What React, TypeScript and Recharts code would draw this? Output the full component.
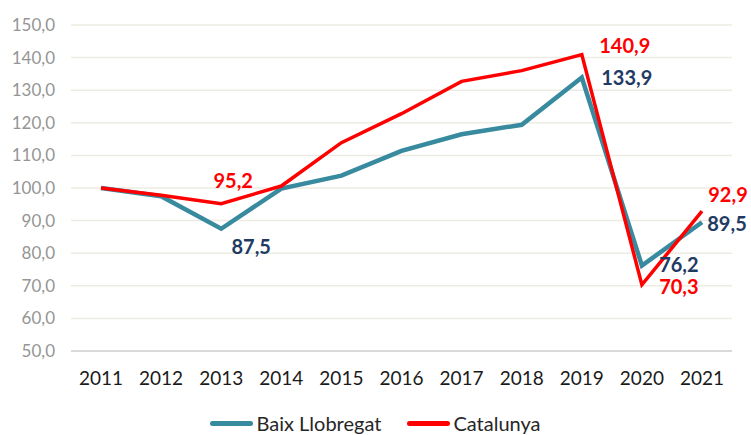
import { LineChart, Line, XAxis, YAxis, CartesianGrid, Legend, LabelList } from "recharts";

const years = ["2011", "2012", "2013", "2014", "2015", "2016", "2017", "2018", "2019", "2020", "2021"];
const baixLlobregat = [100, 97.5, 87.5, 99.8, 103.8, 111.4, 116.5, 119.4, 133.9, 76.2, 89.5];
const catalunya = [100, 97.8, 95.2, 100.6, 113.9, 122.8, 132.7, 136.0, 140.9, 70.3, 92.9];
const yTicks = [50, 60, 70, 80, 90, 100, 110, 120, 130, 140, 150];

const data = years.map((year, i) => ({
  year,
  baix: baixLlobregat[i],
  cat: catalunya[i],
}));

const TEAL = "#388A9E";
const RED = "#FF0000";
const NAVY = "#1F3B64";
const FONT = "Lato, 'Open Sans', sans-serif";

const fmt = (v: number) => v.toFixed(1).replace(".", ",");

// which points get a value label, and where it sits relative to the point
const baixLabels: Record<number, [number, number]> = {
  2: [30, 17],
  8: [45, 0],
  9: [37, -2],
  10: [25, 1],
};
const catLabels: Record<number, [number, number]> = {
  2: [12, -24],
  8: [43, -10],
  9: [37, 1],
  10: [26, -17],
};

const makeLabel = (offsets: Record<number, [number, number]>, color: string) => (props: any) => {
  const { x, y, value, index } = props;
  const off = offsets[index];
  if (!off) return null;
  return (
    <text
      x={x + off[0]}
      y={y + off[1]}
      textAnchor="middle"
      dominantBaseline="central"
      fill={color}
      fontSize={20}
      fontWeight={700}
      fontFamily={FONT}
    >
      {fmt(value)}
    </text>
  );
};

const renderLegend = () => (
  <div
    style={{
      display: "flex",
      justifyContent: "center",
      alignItems: "center",
      height: 24,
      fontFamily: FONT,
      fontSize: 20,
      color: "#262626",
    }}
  >
    <span style={{ display: "inline-block", width: 43, height: 5, borderRadius: 3, background: TEAL, marginRight: 3 }} />
    <span style={{ marginRight: 26 }}>Baix Llobregat</span>
    <span style={{ display: "inline-block", width: 43, height: 5, borderRadius: 3, background: RED, marginRight: 3 }} />
    <span>Catalunya</span>
  </div>
);

export default function App() {
  return (
    <div style={{ position: "absolute", left: 0, top: 0, background: "#fff" }}>
      <LineChart width={751} height={435} data={data} margin={{ top: 25, right: 19, left: 0, bottom: 10 }}>
        <CartesianGrid vertical={false} stroke="#EDECE3" strokeWidth={1.5} />
        <XAxis
          dataKey="year"
          height={50}
          padding={{ left: 30, right: 30 }}
          tickLine={false}
          axisLine={{ stroke: "#D9D9D9", strokeWidth: 2 }}
          tickMargin={15}
          tick={{ fill: "#1a1a1a", fontSize: 19, fontFamily: FONT }}
          interval={0}
        />
        <YAxis
          width={71}
          domain={[50, 150]}
          ticks={yTicks}
          tickFormatter={fmt}
          axisLine={false}
          tickLine={false}
          tickMargin={10}
          tick={{ fill: "#959595", fontSize: 17, fontFamily: FONT }}
        />
        <Legend
          verticalAlign="bottom"
          content={renderLegend}
          wrapperStyle={{ left: 0, width: 751, bottom: 0, height: 24 }}
        />
        <Line
          dataKey="baix"
          name="Baix Llobregat"
          stroke={TEAL}
          strokeWidth={4.5}
          dot={false}
          isAnimationActive={false}
        >
          <LabelList dataKey="baix" content={makeLabel(baixLabels, NAVY)} />
        </Line>
        <Line
          dataKey="cat"
          name="Catalunya"
          stroke={RED}
          strokeWidth={3.5}
          dot={false}
          isAnimationActive={false}
        >
          <LabelList dataKey="cat" content={makeLabel(catLabels, RED)} />
        </Line>
      </LineChart>
    </div>
  );
}
